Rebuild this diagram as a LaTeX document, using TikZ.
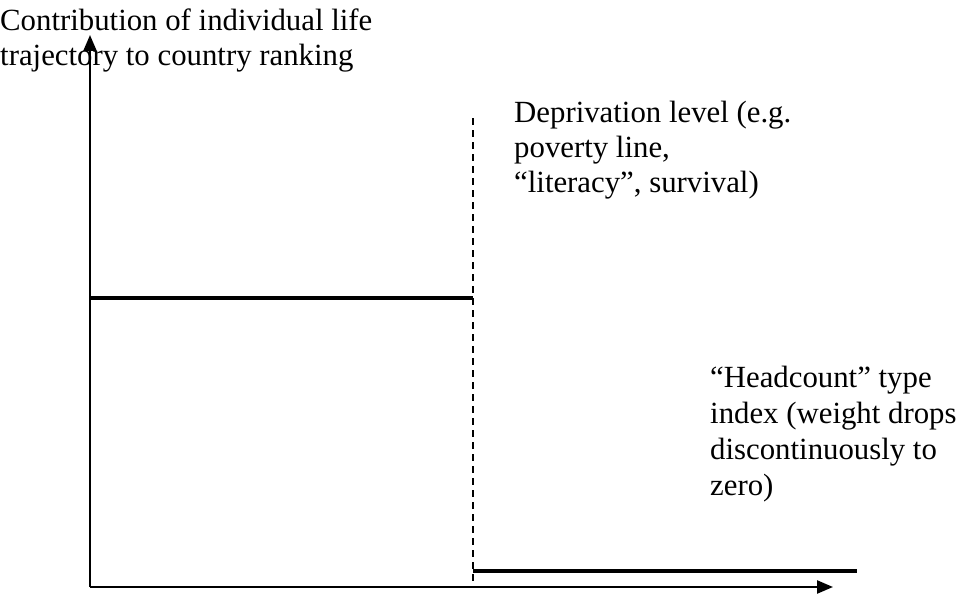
\documentclass[tikz,border=0pt]{standalone}
\usepackage{fontspec}
\setmainfont{Liberation Serif}
\usetikzlibrary{arrows.meta}
\tikzset{
  axis/.style={line width=2.4pt, -{Triangle[length=16pt,width=13pt]}},
  level/.style={line width=4.8pt},
  cutoff/.style={line width=1.3pt, dash pattern=on 7pt off 5pt},
  lbl/.style={anchor=base west, align=left, inner sep=0pt, font=\fontsize{30.8}{35}\selectfont}
}
\begin{document}
\begin{tikzpicture}[x=1pt,y=-1pt]
  \useasboundingbox (0,0) rectangle (967,594);

  \coordinate (o) at (90,587);
  \coordinate (ytop) at (90,35);
  \coordinate (xend) at (833,587);
  \coordinate (cuttop) at (473,118);
  \coordinate (cutbot) at (473,587);
  \coordinate (hi) at (90,298);
  \coordinate (hiend) at (473,298);
  \coordinate (lo) at (473,571);
  \coordinate (loend) at (857,571);

      \draw[axis] (o) -- (ytop);
      \draw[axis] (o) -- (xend);
        \draw[cutoff] (cuttop) -- (cutbot);
        \draw[level] (hi) -- (hiend);
        \draw[level] (lo) -- (loend);

      % base anchor sits on the last line
      \node[lbl] (ylab) at (0,66){Contribution of individual life\\trajectory to country ranking};
      \node[lbl] (deplab) at (514,192){Deprivation level (e.g.\\poverty line,\\``literacy'', survival)};
      \node[lbl, font=\fontsize{30.8}{36}\selectfont] (hclab) at (710,495){``Headcount'' type\\index (weight drops\\discontinuously to\\zero)};

    \end{tikzpicture}
\end{document}
